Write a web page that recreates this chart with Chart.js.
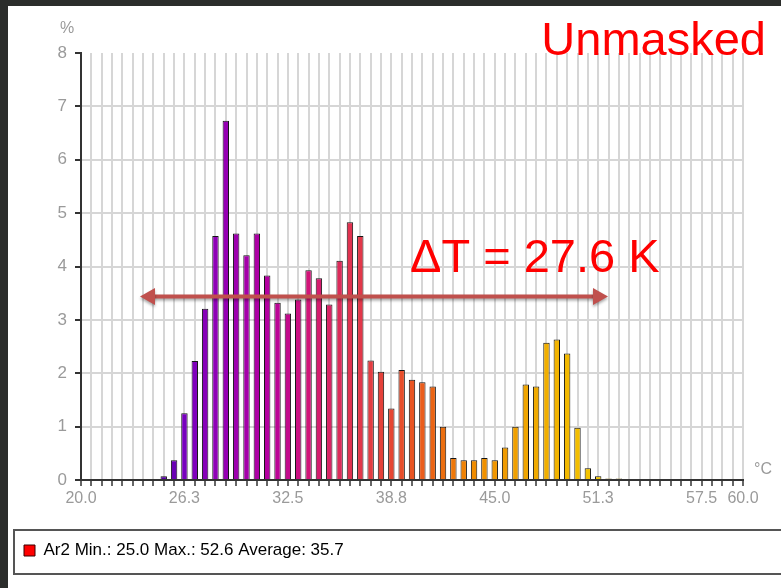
<!DOCTYPE html>
<html>
<head>
<meta charset="utf-8">
<script src="https://cdn.jsdelivr.net/npm/chart.js@4.4.0/dist/chart.umd.min.js"></script>
<style>
  html, body { margin: 0; padding: 0; background: #2b2d2b; }
  #panel { position: absolute; left: 8px; top: 6px; width: 773px; height: 582px; background: #fff; }
  #wrap { position: absolute; left: 0; top: 0; width: 781px; height: 588px; }
</style>
</head>
<body>
<div id="panel"></div>
<div id="wrap"><canvas id="histChart" width="781" height="588"></canvas></div>
<script>
// bin centres in °C (0.625 wide)
const categories = [20, 20.625, 21.25, 21.875, 22.5, 23.125, 23.75, 24.375, 25, 25.625,
  26.25, 26.875, 27.5, 28.125, 28.75, 29.375, 30, 30.625, 31.25, 31.875,
  32.5, 33.125, 33.75, 34.375, 35, 35.625, 36.25, 36.875, 37.5, 38.125,
  38.75, 39.375, 40, 40.625, 41.25, 41.875, 42.5, 43.125, 43.75, 44.375,
  45, 45.625, 46.25, 46.875, 47.5, 48.125, 48.75, 49.375, 50, 50.625,
  51.25, 51.875, 52.5, 53.125, 53.75, 54.375, 55, 55.625, 56.25, 56.875,
  57.5, 58.125, 58.75, 59.375, 60]

// share of pixels in %
const percent = [0, 0, 0, 0, 0, 0, 0, 0, 0.07, 0.37,
  1.25, 2.23, 3.21, 4.57, 6.73, 4.62, 4.21, 4.62, 3.83, 3.32,
  3.12, 3.38, 3.93, 3.78, 3.29, 4.11, 4.83, 4.57, 2.24, 2.03,
  1.34, 2.06, 1.88, 1.83, 1.75, 1.00, 0.41, 0.37, 0.37, 0.41,
  0.37, 0.61, 1.00, 1.79, 1.75, 2.57, 2.63, 2.37, 0.98, 0.22,
  0.07, 0.03, 0.03, 0, 0, 0, 0, 0, 0, 0,
  0, 0, 0, 0, 0]

const tickValues = [20, 26.25, 32.5, 38.75, 45, 51.25, 57.5, 60]
const tickLabels = ['20.0', '26.3', '32.5', '38.8', '45.0', '51.3', '57.5', '60.0']

const seriesLabel = 'Ar2 Min.: 25.0 Max.: 52.6 Average: 35.7'

// palette along the bins (purple -> red -> yellow)
const colorStops = [
  [8, [90, 0, 170]], [10, [120, 0, 190]], [14, [150, 0, 180]], [18, [180, 0, 160]],
  [22, [210, 20, 120]], [26, [225, 50, 80]], [30, [230, 70, 50]], [34, [235, 100, 20]],
  [38, [240, 140, 0]], [44, [240, 170, 0]], [50, [245, 200, 0]]
]

function barColor(k) {
  if (k <= colorStops[0][0]) return 'rgb(' + colorStops[0][1].join(',') + ')'
  for (let i = 1; i < colorStops.length; i++) {
    const a = colorStops[i - 1], b = colorStops[i]
    if (k <= b[0]) {
      const t = (k - a[0]) / (b[0] - a[0])
      const c = a[1].map((v, j) => Math.round(v + (b[1][j] - v) * t))
      return 'rgb(' + c.join(',') + ')'
    }
  }
  return 'rgb(' + colorStops[colorStops.length - 1][1].join(',') + ')'
}

Chart.defaults.font.family = '"Liberation Sans", Arial, sans-serif'

const gridGray = '#d6d6d6'
const axisDark = '#333333'
const labelGray = '#9a9a9a'

const extras = {
  id: 'extras',
  afterDraw(chart) {
    const ctx = chart.ctx
    ctx.save()
    // legend frame
    ctx.strokeStyle = '#555'
    ctx.lineWidth = 2
    ctx.strokeRect(14, 530, 800, 44)

    // unit labels
    ctx.fillStyle = labelGray
    ctx.font = '16px "Liberation Sans", Arial'
    ctx.textAlign = 'center'
    ctx.textBaseline = 'middle'
    ctx.fillText('%', 67, 29)
    ctx.fillText('°C', 763, 470)

    // titles in red
    ctx.fillStyle = '#ff0000'
    ctx.font = '47px "Liberation Sans", Arial'
    ctx.textBaseline = 'alphabetic'
    ctx.textAlign = 'right'
    ctx.fillText('Unmasked', 766, 55)
    ctx.textAlign = 'left'
    ctx.fillText('ΔT = 27.6 K', 410, 272)

    // double arrow
    const y = 296.5, x1 = 140, x2 = 608
    ctx.shadowColor = 'rgba(0,0,0,0.35)'
    ctx.shadowBlur = 3
    ctx.shadowOffsetY = 2
    ctx.fillStyle = '#c0504d'
    ctx.fillRect(x1 + 12, y - 2, x2 - x1 - 24, 4)
    ctx.beginPath()
    ctx.moveTo(x1, y)
    ctx.lineTo(x1 + 15, y - 8.5)
    ctx.lineTo(x1 + 15, y + 8.5)
    ctx.closePath()
    ctx.fill()
    ctx.beginPath()
    ctx.moveTo(x2, y)
    ctx.lineTo(x2 - 15, y - 8.5)
    ctx.lineTo(x2 - 15, y + 8.5)
    ctx.closePath()
    ctx.fill()
    ctx.restore()
  }
}

const data = {
  labels: categories,
  datasets: [{
    label: seriesLabel,
    data: percent,
    backgroundColor: categories.map((c, k) => barColor(k)),
    borderColor: '#151515',
    borderWidth: 1,
    barPercentage: 0.62,
    categoryPercentage: 1
  }]
}

const config = {
  type: 'bar',
  data: data,
  options: {
    responsive: false,
    animation: false,
    layout: { padding: { left: 10, right: 38, top: 53, bottom: 19 } },
    plugins: {
      tooltip: { enabled: false },
      legend: {
        position: 'bottom',
        align: 'start',
        labels: {
          boxWidth: 11,
          boxHeight: 11,
          padding: 14,
          color: '#8a8a8a',
          font: { size: 17 },
          generateLabels: (chart) => [{
            text: chart.data.datasets[0].label,
            fillStyle: '#ff0000',
            strokeStyle: '#3a0000',
            lineWidth: 1,
            hidden: false,
            datasetIndex: 0
          }]
        }
      }
    },
    scales: {
      x: {
        type: 'category',
        offset: false,
        afterFit: (s) => { s.height = 48 },
        ticks: {
          autoSkip: false,
          maxRotation: 0,
          minRotation: 0,
          padding: 3,
          color: labelGray,
          font: { size: 16 },
          callback: function (v, i) {
            const j = tickValues.indexOf(categories[i])
            return j >= 0 ? tickLabels[j] : ''
          }
        },
        grid: {
          offset: false,
          color: gridGray,
          lineWidth: 2,
          tickLength: 6,
          tickColor: axisDark,
          tickWidth: 1.5
        },
        border: { color: axisDark, width: 2 }
      },
      y: {
        min: 0,
        max: 8,
        afterFit: (s) => { s.width = 71 },
        ticks: { stepSize: 1, padding: 8, color: labelGray, font: { size: 17 } },
        grid: {
          color: (c) => c.tick && c.tick.value === 8 ? 'rgba(0,0,0,0)' : gridGray,
          lineWidth: 2,
          tickLength: 6,
          tickColor: axisDark,
          tickWidth: 2
        },
        border: { color: axisDark, width: 2 }
      }
    }
  },
  plugins: [extras]
}

const myChart = new Chart(document.getElementById('histChart'), config)
</script>
</body>
</html>
